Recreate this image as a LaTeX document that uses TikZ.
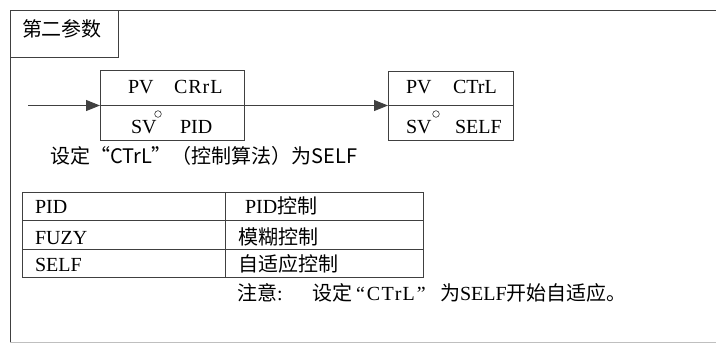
\documentclass[tikz,border=0pt]{standalone}
\usepackage{fontspec}
\setmainfont{Liberation Serif}
\newfontfamily\cjk{Noto Sans CJK SC}
\usetikzlibrary{arrows.meta}
\begin{document}
\begin{tikzpicture}[x=1pt,y=-1pt,
  every node/.style={inner sep=0pt, outer sep=0pt, font=\fontsize{20}{24}\selectfont},
  ln/.style={draw=black!75, line width=0.8pt},
  faint/.style={draw=black!25, line width=0.6pt},
  pbox/.style={ln, rectangle},
  cell/.style={ln, rectangle, anchor=north west},
  lbl/.style={anchor=base west},
  deg/.style={draw=black!80, line width=0.6pt},
  arr/.style={ln, -{Triangle[length=14pt,width=11pt]}}]
\useasboundingbox (0,0) rectangle (716,346);
% outer frame
\draw[ln] (716,10) -- (10,10) -- (10,343);
\draw[faint] (10,342) -- (716,342);
% title box
\node[cell, minimum width=108pt, minimum height=47pt] (title) at (10,10) {};
\node[lbl] (titletxt) at (22,36) {\cjk 第二参数};
% parameter boxes
\node[pbox, minimum width=144pt, minimum height=70pt] (b1) at (172,105.5) {};
\draw[ln] (b1.west) -- (b1.east);
\node[pbox, minimum width=125pt, minimum height=69pt] (b2) at (450.5,105.5) {};
\draw[ln] (b2.west) -- (b2.east);
% arrows
\coordinate (start) at (28,105.5);
\draw[arr] (start) -- (b1.west);
\draw[arr] (b1.east) -- (b2.west);
% box 1 texts
\node[lbl] (pv1) at (128,93) {PV};
\node[lbl] (crrl) at (174,93) {C\kern1ptR\kern1ptr\kern1ptL};
\node[lbl] (sv1) at (131,133) {SV};
\draw[deg] (158,114) circle (3.3pt);
\node[lbl] (pid1) at (180,133) {PID};
% box 2 texts
\node[lbl] (pv2) at (406,93) {PV};
\node[lbl] (ctrl2) at (453,93) {CTrL};
\node[lbl] (sv2) at (406,133) {SV};
\draw[deg] (436,114) circle (3.3pt);
\node[lbl] (self2) at (455,133) {SELF};
% caption
\node[lbl] (cap) at (50,163) {\cjk 设定“CTrL”（控制算法）为SELF};
% table
\node[cell, minimum width=203pt, minimum height=28pt] (c11) at (22,192) {};
\node[cell, minimum width=198pt, minimum height=28pt] (c12) at (225,192) {};
\node[cell, minimum width=203pt, minimum height=29pt] (c21) at (22,220) {};
\node[cell, minimum width=198pt, minimum height=29pt] (c22) at (225,220) {};
\node[cell, minimum width=203pt, minimum height=28pt] (c31) at (22,249) {};
\node[cell, minimum width=198pt, minimum height=28pt] (c32) at (225,249) {};
\node[lbl] (t11) at (35,213) {PID};
\node[lbl] (t12) at (245,213) {PID{\cjk 控制}};
\node[lbl] (t21) at (35,244) {FUZY};
\node[lbl] (t22) at (238,244) {\cjk 模糊控制};
\node[lbl] (t31) at (35,271) {SELF};
\node[lbl] (t32) at (238,271) {\cjk 自适应控制};
% note
\node[lbl] (note1) at (237,300) {{\cjk 注意}:};
\node[lbl] (note2) at (312,300) {{\cjk 设定}\hspace{4pt}“\kern2pt C\kern1.5ptT\kern1ptr\kern1ptL\kern2pt”};
\node[lbl] (note3) at (440,300) {{\cjk 为}SELF{\cjk 开始自适应。}};
\end{tikzpicture}
\end{document}
